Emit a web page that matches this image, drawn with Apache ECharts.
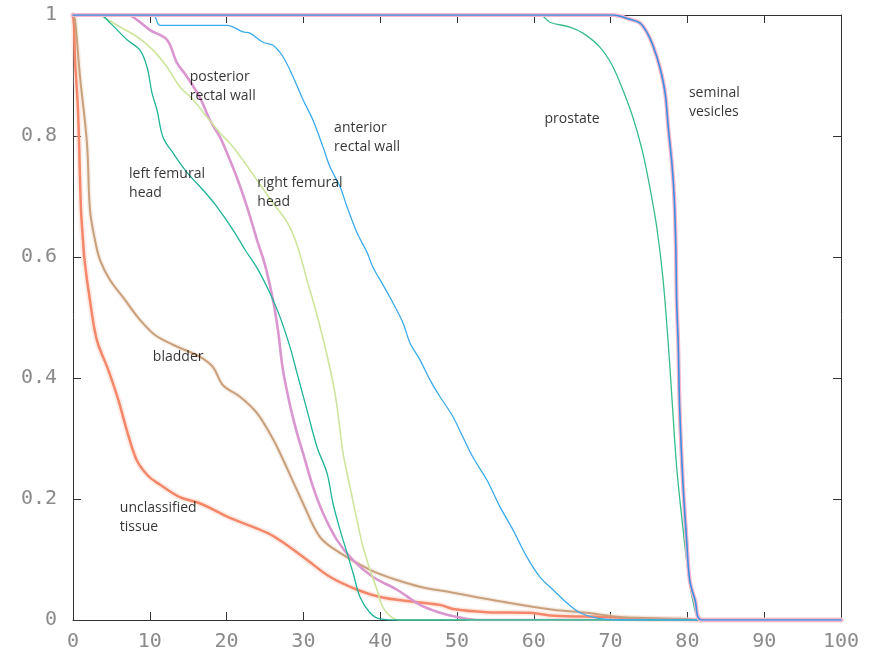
<!DOCTYPE html>
<html>
<head>
<meta charset="utf-8">
<script src="https://cdn.jsdelivr.net/npm/echarts@6/dist/echarts.min.js"></script>
<style>
html,body{margin:0;padding:0;background:#fff;}
#chart{width:870px;height:657px;}
</style>
</head>
<body>
<div id="chart"></div>
<script>
// x ticks (dose) and y ticks (volume fraction)
var xTicks = [0, 10, 20, 30, 40, 50, 60, 70, 80, 90, 100];
var yTicks = [0, 0.2, 0.4, 0.6, 0.8, 1];

// [dose, volume fraction]
var unclassifiedTissue = [[0,1],[0.13,0.983],[0.26,0.926],[0.65,0.843],[1.04,0.678],[1.3,0.628],[1.5,0.595],[2.2,0.529],[3.1,0.463],[4.6,0.413],[5.9,0.364],[7.0,0.314],[8.3,0.264],[9.8,0.238],[11.3,0.224],[13.9,0.203],[16.5,0.193],[20.6,0.168],[25.3,0.144],[27.6,0.126],[30.5,0.099],[33.5,0.071],[37.0,0.05],[40.0,0.038],[44.3,0.03],[47.8,0.025],[49.5,0.018],[53.9,0.013],[59.5,0.012],[62.5,0.007],[69.5,0.005],[73.4,0.002],[79,0.001],[81.6,0],[100,0]];

var bladder = [[0,1],[0.26,0.992],[0.91,0.898],[1.82,0.788],[2.21,0.678],[2.86,0.628],[3.52,0.595],[4.82,0.562],[6.77,0.529],[8.72,0.496],[10.68,0.471],[13.02,0.455],[16.54,0.435],[18.23,0.418],[19.53,0.388],[21.74,0.369],[23.96,0.342],[25.91,0.302],[26.95,0.276],[29.95,0.193],[32.16,0.137],[34.77,0.111],[38.67,0.083],[42.19,0.066],[45.18,0.055],[49.48,0.045],[55.99,0.03],[62.5,0.017],[66.9,0.012],[71.2,0.005],[79,0.002],[81.6,0],[100,0]];

var leftFemuralHead = [[0,1],[3.52,1],[4.82,0.987],[7.03,0.959],[8.72,0.942],[9.64,0.914],[10.29,0.871],[10.94,0.843],[11.72,0.798],[13.02,0.772],[14.84,0.74],[17.19,0.707],[18.75,0.683],[20.83,0.645],[22.4,0.612],[23.96,0.582],[25.65,0.54],[26.95,0.501],[28.26,0.451],[29.17,0.408],[30.47,0.347],[31.77,0.286],[33.07,0.243],[33.85,0.193],[34.77,0.149],[35.68,0.111],[36.46,0.078],[37.37,0.038],[38.67,0.012],[39.97,0.002],[42.6,0],[100,0]];

var posteriorRectalWall = [[0,1],[7.03,1],[8.33,0.992],[10.03,0.975],[12.24,0.959],[13.54,0.921],[14.84,0.898],[16.54,0.863],[17.84,0.826],[19.14,0.798],[20.05,0.772],[21.35,0.731],[22.66,0.683],[23.96,0.628],[25.0,0.587],[26.04,0.529],[26.69,0.479],[27.34,0.413],[28.26,0.355],[29.17,0.309],[29.95,0.276],[31.25,0.22],[32.55,0.177],[34.38,0.132],[36.46,0.099],[39.06,0.071],[42.19,0.05],[45.18,0.025],[47.79,0.012],[50,0.005],[52.6,0],[100,0]];

var rightFemuralHead = [[0,1],[3.52,1],[3.9,0.997],[5.73,0.983],[8.33,0.964],[10.42,0.942],[12.24,0.914],[13.93,0.881],[15.63,0.86],[17.45,0.831],[19.14,0.805],[20.44,0.788],[22.14,0.76],[23.96,0.727],[26.04,0.689],[27.86,0.658],[29.17,0.62],[30.47,0.562],[31.77,0.504],[33.07,0.438],[34.11,0.375],[34.77,0.314],[35.16,0.276],[36.07,0.22],[36.98,0.165],[37.76,0.121],[38.67,0.083],[39.58,0.05],[40.36,0.021],[41.67,0.003],[42.6,0],[100,0]];

var anteriorRectalWall = [[0,1],[10.42,1],[11.33,0.983],[20.05,0.983],[22.14,0.972],[23.05,0.97],[24.74,0.955],[26.04,0.95],[27.34,0.931],[28.65,0.898],[29.95,0.86],[31.25,0.826],[32.55,0.782],[33.46,0.749],[34.77,0.716],[35.68,0.683],[36.98,0.64],[38.28,0.608],[39.06,0.583],[40.36,0.554],[41.67,0.524],[42.97,0.491],[43.88,0.458],[45.18,0.43],[46.48,0.397],[47.79,0.369],[49.48,0.336],[50.78,0.302],[52.08,0.269],[53.91,0.231],[55.6,0.187],[57.29,0.149],[59.11,0.104],[60.81,0.071],[62.5,0.05],[64.32,0.028],[66.02,0.012],[68.23,0.003],[71.2,0],[100,0]];

var prostate = [[0,1],[60.8,1],[62.1,0.988],[64.7,0.98],[66.4,0.97],[68.6,0.947],[70.2,0.917],[71.6,0.876],[72.9,0.831],[74.1,0.777],[75.1,0.716],[76.0,0.65],[76.8,0.567],[77.5,0.458],[78.0,0.364],[78.6,0.253],[79.4,0.154],[79.9,0.099],[80.7,0.033],[81.9,0],[100,0]];

var seminalVesicles = [[0,1],[70.3,1],[72.5,0.993],[73.8,0.987],[74.7,0.972],[75.5,0.95],[76.4,0.914],[77.1,0.871],[77.5,0.815],[78.0,0.752],[78.3,0.694],[78.5,0.612],[78.6,0.529],[78.8,0.458],[79.0,0.347],[79.4,0.231],[79.9,0.132],[80.3,0.066],[81.0,0.033],[81.9,0],[100,0]];

// annotation text and its anchor in data coordinates [dose, volume]
var annotationTexts = ['posterior\nrectal wall','left femural\nhead','right femural\nhead','anterior\nrectal wall','prostate','seminal\nvesicles','bladder','unclassified\ntissue'];
var annotationAnchors = [[15.2,0.881],[7.3,0.721],[24.0,0.706],[34.0,0.798],[61.4,0.828],[80.2,0.856],[10.4,0.435],[6.1,0.17]];

var chart = echarts.init(document.getElementById('chart'), null, {renderer:'canvas'});

function lineSeries(name, data, color, width, z, opacity) {
  return {
    name: name, type: 'line', data: data, symbol: 'none', z: z,
    smooth: 0.35, silent: true,
    lineStyle: {color: color, width: width, opacity: opacity == null ? 1 : opacity, join: 'round', cap: 'round'}
  };
}

var tickLabelStyle = {fontFamily: 'DejaVu Sans Mono', fontSize: 20, color: '#8a8a8a'};

var annData = annotationAnchors.map(function (a, i) { return {value: a, text: annotationTexts[i]}; });

var option = {
  backgroundColor: '#fff',
  animation: false,
  grid: {left: 73, right: 29, top: 15, bottom: 37, containLabel: false},
  xAxis: [
    {type: 'value', min: xTicks[0], max: xTicks[xTicks.length-1], interval: xTicks[1]-xTicks[0], position: 'bottom',
     axisLine: {show: true, lineStyle: {color: '#333', width: 1}},
     axisTick: {show: true, inside: true, length: 8, lineStyle: {color: '#333'}},
     axisLabel: Object.assign({margin: 12}, tickLabelStyle),
     splitLine: {show: false}},
    {type: 'value', min: xTicks[0], max: xTicks[xTicks.length-1], interval: xTicks[1]-xTicks[0], position: 'top',
     axisLine: {show: true, onZero: false, lineStyle: {color: '#333', width: 1}},
     axisTick: {show: true, inside: true, length: 8, lineStyle: {color: '#333'}},
     axisLabel: {show: false}, splitLine: {show: false}}
  ],
  yAxis: [
    {type: 'value', min: yTicks[0], max: yTicks[yTicks.length-1], interval: yTicks[1]-yTicks[0], position: 'left',
     axisLine: {show: true, lineStyle: {color: '#333', width: 1}},
     axisTick: {show: true, inside: true, length: 8, lineStyle: {color: '#333'}},
     axisLabel: Object.assign({margin: 16}, tickLabelStyle),
     splitLine: {show: false}},
    {type: 'value', min: yTicks[0], max: yTicks[yTicks.length-1], interval: yTicks[1]-yTicks[0], position: 'right',
     axisLine: {show: true, onZero: false, lineStyle: {color: '#333', width: 1}},
     axisTick: {show: true, inside: true, length: 8, lineStyle: {color: '#333'}},
     axisLabel: {show: false}, splitLine: {show: false}}
  ],
  series: [
    lineSeries('unclassified tissue halo', unclassifiedTissue, '#f9c8b8', 6, 1, 0.35),
    lineSeries('unclassified tissue', unclassifiedTissue, '#f4866a', 2.5, 2),
    lineSeries('bladder halo', bladder, '#ecd8c6', 5, 1, 0.4),
    lineSeries('bladder', bladder, '#c9a07c', 2, 3),
    lineSeries('posterior rectal wall', posteriorRectalWall, '#d996cf', 2.6, 4),
    lineSeries('right femural head', rightFemuralHead, '#cde59c', 1.6, 5),
    lineSeries('left femural head', leftFemuralHead, '#1fb497', 1.3, 6),
    lineSeries('anterior rectal wall', anteriorRectalWall, '#3aaaeb', 1.3, 7),
    lineSeries('prostate', prostate, '#36bd8a', 1.3, 8),
    lineSeries('seminal vesicles halo', seminalVesicles, '#f6b6cc', 4, 8),
    lineSeries('seminal vesicles', seminalVesicles, '#3a8fe2', 1.6, 9),
    {
      name: 'annotations', type: 'scatter', symbolSize: 0, silent: true, z: 20,
      data: annData,
      label: {show: true, position: 'right', distance: 0, formatter: function (p) { return p.data.text; },
              fontFamily: 'Open Sans', fontWeight: 500, fontSize: 14, lineHeight: 19, color: '#000',
              align: 'left', verticalAlign: 'middle'}
    }
  ]
};
chart.setOption(option);
</script>
</body>
</html>
